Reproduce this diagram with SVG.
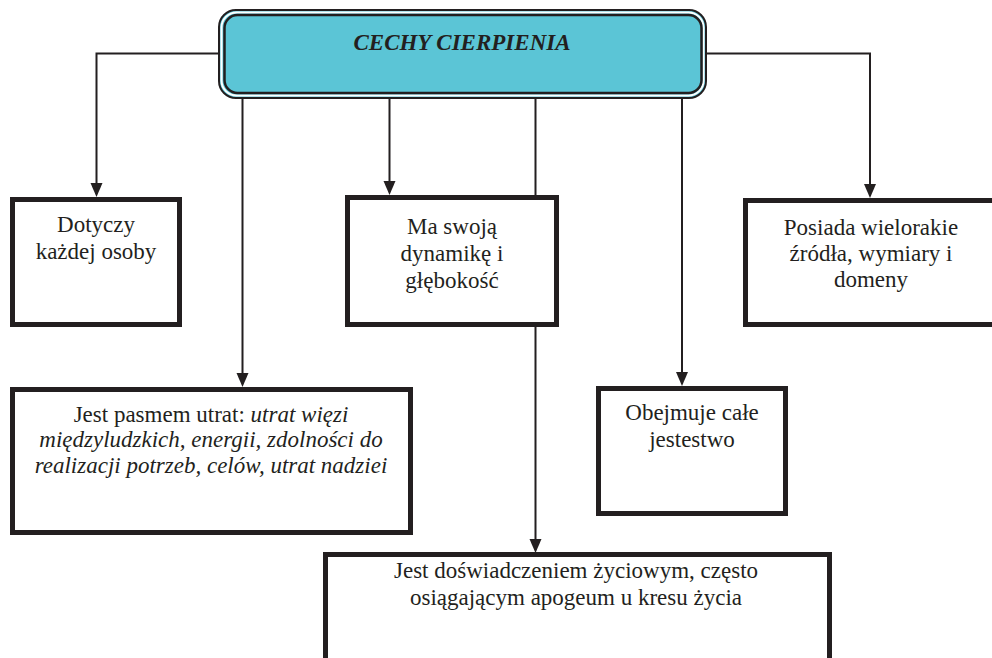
<svg xmlns="http://www.w3.org/2000/svg" width="992" height="658" viewBox="0 0 992 658" font-family="Liberation Serif, DejaVu Serif, serif">
<defs>
<style>
.c{stroke:#231F20;stroke-width:2;fill:none}
.a{fill:#231F20}
.b{fill:#fff;stroke:#231F20;stroke-width:5}
.t{font-size:23px;fill:#231F20;text-anchor:middle}
.i{font-style:italic}
</style>
</defs>
<rect width="992" height="658" fill="#fff"/>
<g id="connectors">
<polyline class="c" points="218,53.5 96.5,53.5 96.5,184"/>
<polygon class="a" points="90.5,183 102.5,183 96.5,197"/>
<polyline class="c" points="706,53.5 870,53.5 870,185"/>
<polygon class="a" points="864,184 876,184 870,198"/>
<line class="c" x1="242.5" y1="97" x2="242.5" y2="374"/>
<polygon class="a" points="236.5,373 248.5,373 242.5,387"/>
<line class="c" x1="389.5" y1="97" x2="389.5" y2="182"/>
<polygon class="a" points="383.5,181 395.5,181 389.5,195"/>
<line class="c" x1="535.5" y1="97" x2="535.5" y2="540"/>
<polygon class="a" points="529.5,539 541.5,539 535.5,553"/>
<line class="c" x1="682" y1="97" x2="682" y2="373"/>
<polygon class="a" points="676,372 688,372 682,386"/>
</g>
<g id="header">
<rect x="219" y="10" width="487" height="88" rx="17" fill="#5BC5D6" stroke="#231F20" stroke-width="2"/>
<rect x="221.5" y="12.5" width="482" height="83" rx="15" fill="none" stroke="#fff" stroke-width="2"/>
<rect x="224.5" y="15" width="477" height="78" rx="13" fill="#5BC5D6" stroke="#231F20" stroke-width="2.5"/>
<text class="t i" x="462" y="50" font-weight="bold" font-family="Liberation Serif, serif">CECHY CIERPIENIA</text>
</g>
<g id="n1">
<rect class="b" x="12.5" y="199.5" width="167" height="125"/>
<text class="t" x="96" y="232">Dotyczy</text>
<text class="t" x="96" y="259">każdej osoby</text>
</g>
<g id="n2">
<rect class="b" x="347.5" y="197.5" width="209" height="127"/>
<text class="t" x="452" y="234">Ma swoją</text>
<text class="t" x="452" y="261">dynamikę i</text>
<text class="t" x="452" y="288">głębokość</text>
</g>
<g id="n3">
<rect class="b" x="745.5" y="200.5" width="260" height="124"/>
<text class="t" x="871" y="235">Posiada wielorakie</text>
<text class="t" x="871" y="261">źródła, wymiary i</text>
<text class="t" x="871" y="287">domeny</text>
</g>
<g id="n4">
<rect class="b" x="12.5" y="389.5" width="398" height="143"/>
<text class="t" x="211" y="422">Jest pasmem utrat: <tspan class="i">utrat więzi</tspan></text>
<text class="t i" x="211" y="447">międzyludzkich, energii, zdolności do</text>
<text class="t i" x="211" y="473">realizacji potrzeb, celów, utrat nadziei</text>
</g>
<g id="n5">
<rect class="b" x="598.5" y="388.5" width="187" height="125"/>
<text class="t" x="692" y="420">Obejmuje całe</text>
<text class="t" x="692" y="447">jestestwo</text>
</g>
<g id="n6">
<rect class="b" x="325.5" y="554.5" width="504" height="120"/>
<text class="t" x="576" y="578">Jest doświadczeniem życiowym, często</text>
<text class="t" x="576" y="605">osiągającym apogeum u kresu życia</text>
</g>
</svg>
